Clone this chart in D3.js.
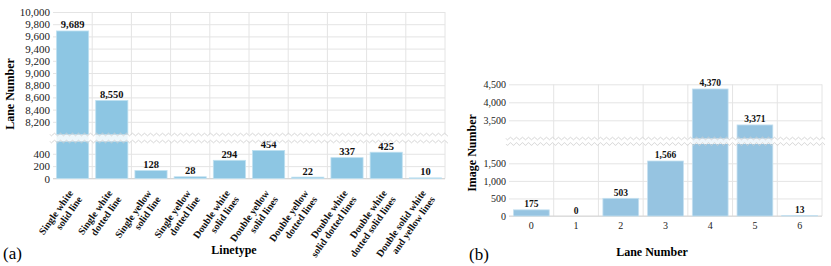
<!DOCTYPE html>
<html>
<head>
<meta charset="utf-8">
<script src="https://cdn.jsdelivr.net/npm/d3@7"></script>
<style>
body { margin: 0; background: #fff; }
svg { display: block; font-family: "Liberation Serif", "Times New Roman", serif; }
.grid line { stroke: #e4e4e4; stroke-width: 1; }
.grid path { display: none; }
</style>
</head>
<body>
<svg id="chart" width="831" height="266"></svg>
<script>
// left chart data
var lineTypes = [
  ["Single white", "solid line"],
  ["Single white", "dotted line"],
  ["Single yellow", "solid line"],
  ["Single yellow", "dotted line"],
  ["Double white", "solid lines"],
  ["Double yellow", "solid lines"],
  ["Double yellow", "dotted lines"],
  ["Double white", "solid dotted lines"],
  ["Double white", "dotted solid lines"],
  ["Double solid white", "and yellow lines"]
];
var laneCounts = [9689, 8550, 128, 28, 294, 454, 22, 337, 425, 10];
var leftUpperTicks = [8200, 8400, 8600, 8800, 9000, 9200, 9400, 9600, 9800, 10000];
var leftLowerTicks = [0, 200, 400];

// right chart data
var laneNumbers = ["0", "1", "2", "3", "4", "5", "6"];
var imageCounts = [175, 0, 503, 1566, 4370, 3371, 13];
var rightUpperTicks = [3500, 4000, 4500];
var rightLowerTicks = [0, 500, 1000, 1500];

var svg = d3.select("#chart");
var fmt = d3.format(",");

function wavePath(x0, x1, y) {
  var pts = [];
  for (var x = x0; x <= x1; x += 0.5) {
    pts.push([x, y + 1.3 * Math.sin((x - x0) / 6 * 2 * Math.PI)]);
  }
  return d3.line()(pts);
}

function drawChart(cfg) {
  var g = svg.append("g");
  var x = d3.scaleBand()
    .domain(cfg.cats)
    .range([cfg.left, cfg.right])
    .paddingInner(cfg.pad)
    .paddingOuter(cfg.pad / 2);
  var xGrid = d3.scaleBand().domain(cfg.cats).range([cfg.left, cfg.right]);
  var yUp = d3.scaleLinear().domain(cfg.upDomain).range(cfg.upRange);
  var yLow = d3.scaleLinear().domain(cfg.lowDomain).range(cfg.lowRange);
  var y = function(v) { return v > cfg.lowDomain[1] ? yUp(v) : yLow(v); };
  var w = cfg.right - cfg.left;

  // vertical grid
  g.append("g").selectAll("line")
    .data(cfg.cats.slice(1).map(function(c) { return xGrid(c); }).concat([cfg.right]))
    .enter().append("line")
    .attr("x1", function(d) { return d; }).attr("x2", function(d) { return d; })
    .attr("y1", cfg.upRange[1]).attr("y2", cfg.lowRange[0])
    .attr("stroke", "#e4e4e4");

  // horizontal grid + tick labels
  [[yUp, cfg.upTicks], [yLow, cfg.lowTicks]].forEach(function(p) {
    var ax = g.append("g")
      .attr("class", "grid")
      .attr("transform", "translate(" + cfg.left + ",0)")
      .call(d3.axisLeft(p[0]).tickValues(p[1]).tickFormat(fmt).tickSizeInner(-w).tickSizeOuter(0).tickPadding(3));
    ax.attr("font-family", null).attr("font-size", null);
    ax.selectAll("text")
      .attr("fill", "#222")
      .style("font-size", cfg.tickSize + "px");
  });

  // baseline
  g.append("line")
    .attr("x1", cfg.left).attr("x2", cfg.right)
    .attr("y1", yLow(0)).attr("y2", yLow(0))
    .attr("stroke", "#d6d6d6");

  // bars
  g.append("g").selectAll("rect")
    .data(cfg.values)
    .enter().append("rect")
    .attr("x", function(d, i) { return x(cfg.cats[i]); })
    .attr("width", x.bandwidth())
    .attr("y", function(d) { return y(d); })
    .attr("height", function(d) { return yLow(0) - y(d); })
    .attr("fill", cfg.color)
    .attr("stroke", cfg.edge)
    .attr("stroke-width", 0.8);

  // value labels
  g.append("g").selectAll("text")
    .data(cfg.values)
    .enter().append("text")
    .attr("x", function(d, i) { return x(cfg.cats[i]) + x.bandwidth() / 2; })
    .attr("y", function(d) { return y(d) - 2.5; })
    .attr("text-anchor", "middle")
    .style("font-size", cfg.valSize + "px")
    .style("font-weight", "bold")
    .attr("fill", "#111")
    .text(function(d) { return fmt(d); });

  // axis break
  var b = g.append("g");
  b.append("rect")
    .attr("x", cfg.left - 3).attr("width", w + 6)
    .attr("y", cfg.breakTop).attr("height", cfg.breakBot - cfg.breakTop)
    .attr("fill", "#fff").attr("opacity", 0.85);
  [cfg.breakTop, cfg.breakBot].forEach(function(yy) {
    b.append("path")
      .attr("d", wavePath(cfg.left - 3, cfg.right + 3, yy))
      .attr("fill", "none")
      .attr("stroke", "#cfcfcf")
      .attr("stroke-width", 0.9);
  });

  return { g: g, x: x, xGrid: xGrid, yLow: yLow };
}

// (a) Linetype chart
var a = drawChart({
  cats: lineTypes.map(function(d) { return d.join(" "); }),
  values: laneCounts,
  left: 53, right: 445, pad: 0.18,
  upDomain: [8000, 10000], upRange: [134, 12],
  lowDomain: [0, 590], lowRange: [178.5, 142],
  upTicks: leftUpperTicks, lowTicks: leftLowerTicks,
  breakTop: 134.5, breakBot: 141.5,
  color: "#8dc6e3", edge: "#bfe0f0",
  tickSize: 11, valSize: 10.5
});

a.g.append("g").selectAll("text")
  .data(lineTypes)
  .enter().append("text")
  .attr("transform", function(d, i) {
    var cx = a.xGrid(lineTypes[i].join(" ")) + a.xGrid.bandwidth() / 2 + 1;
    return "translate(" + cx + ",193) rotate(-55)";
  })
  .attr("text-anchor", "end")
  .style("font-size", "10px")
  .style("font-weight", "bold")
  .attr("fill", "#111")
  .each(function(d) {
    var t = d3.select(this);
    t.append("tspan").attr("x", 0).attr("dy", 0).text(d[0]);
    t.append("tspan").attr("x", 0).attr("dy", "1.1em").text(d[1]);
  });

a.g.append("text")
  .attr("x", 234).attr("y", 254)
  .attr("text-anchor", "middle")
  .style("font-size", "12px").style("font-weight", "bold")
  .text("Linetype");

a.g.append("text")
  .attr("transform", "translate(14,94) rotate(-90)")
  .attr("text-anchor", "middle")
  .style("font-size", "12px").style("font-weight", "bold")
  .text("Lane Number");

// (b) Lane number chart
var b = drawChart({
  cats: laneNumbers,
  values: imageCounts,
  left: 509, right: 822, pad: 0.2,
  upDomain: [3000, 4500], upRange: [138.3, 84.3],
  lowDomain: [0, 2050], lowRange: [216, 144],
  upTicks: rightUpperTicks, lowTicks: rightLowerTicks,
  breakTop: 138.5, breakBot: 144,
  color: "#96c4e1", edge: "#c4e0f0",
  tickSize: 10, valSize: 9.5
});

b.g.append("g").selectAll("text")
  .data(laneNumbers)
  .enter().append("text")
  .attr("x", function(d) { return b.xGrid(d) + b.xGrid.bandwidth() / 2; })
  .attr("y", 229)
  .attr("text-anchor", "middle")
  .style("font-size", "10px")
  .attr("fill", "#222")
  .text(function(d) { return d; });

b.g.append("text")
  .attr("x", 652).attr("y", 256)
  .attr("text-anchor", "middle")
  .style("font-size", "12px").style("font-weight", "bold")
  .text("Lane Number");

b.g.append("text")
  .attr("transform", "translate(476,153) rotate(-90)")
  .attr("text-anchor", "middle")
  .style("font-size", "12px").style("font-weight", "bold")
  .text("Image Number");

svg.append("text").attr("x", 3).attr("y", 259).style("font-size", "17px").text("(a)");
svg.append("text").attr("x", 469).attr("y", 260).style("font-size", "17px").text("(b)");
</script>
</body>
</html>
